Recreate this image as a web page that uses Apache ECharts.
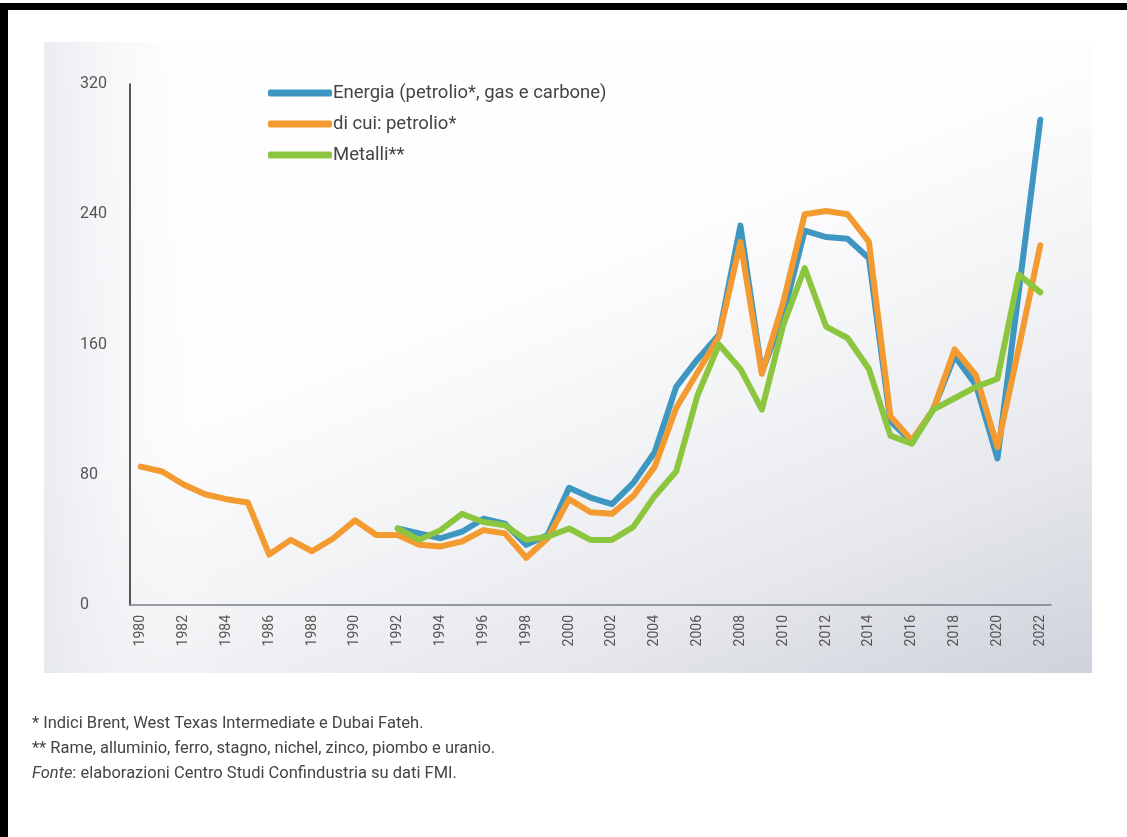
<!DOCTYPE html>
<html>
<head>
<meta charset="utf-8">
<script src="https://cdn.jsdelivr.net/npm/echarts@6/dist/echarts.min.js"></script>
<style>
html,body{margin:0;padding:0;background:#fff;}
#chart{width:1127px;height:837px;}
</style>
</head>
<body>
<div id="chart"></div>
<script>
const years = ['1980','1981','1982','1983','1984','1985','1986','1987','1988','1989','1990','1991','1992','1993','1994','1995','1996','1997','1998','1999','2000','2001','2002','2003','2004','2005','2006','2007','2008','2009','2010','2011','2012','2013','2014','2015','2016','2017','2018','2019','2020','2021','2022'];
const energia = [null,null,null,null,null,null,null,null,null,null,null,null,
  47,44,41,45,53,50,37,43,72,66,62,75,94,134,151,166,233,143,178,230,226,225,213,113,100,120,153,135,90,193,298];
const petrolio = [85,82,74,68,65,63,31,40,33,41,52,43,43,37,36,39,46,44,29,41,65,57,56,67,85,121,143,165,223,142,186,240,242,240,223,116,101,120,157,141,97,158,221];
const metalli = [null,null,null,null,null,null,null,null,null,null,null,null,
  47,40,46,56,51,49,40,42,47,40,40,48,67,82,129,160,145,120,172,207,171,164,145,104,99,120,127,134,139,203,192];
const seriesNames = ['Energia (petrolio*, gas e carbone)','di cui: petrolio*','Metalli**'];
const yTicks = [0,80,160,240,320];
const notes = ['* Indici Brent, West Texas Intermediate e Dubai Fateh.','** Rame, alluminio, ferro, stagno, nichel, zinco, piombo e uranio.'];
const sourceLabel = 'Fonte';
const sourceText = ': elaborazioni Centro Studi Confindustria su dati FMI.';

const chart = echarts.init(document.getElementById('chart'), null, {renderer:'canvas'});
const mk = (name, data, color) => ({
  name, type:'line', data, symbol:'none', connectNulls:false,
  lineStyle:{width:6, color, join:'round', cap:'round'}, itemStyle:{color}
});
const noteFont = "16.5px Roboto";
chart.setOption({
  animation:false,
  graphic:[
    {type:'rect', z:-10, shape:{x:44,y:42,width:1048,height:631},
     style:{fill:new echarts.graphic.LinearGradient(0,0,382,955,[
       {offset:0,color:'#ffffff'},{offset:0.45,color:'#fdfdfe'},{offset:0.62,color:'#f3f4f6'},
       {offset:0.8,color:'#e6e8ec'},{offset:1,color:'#cfd2db'}], true)}},
    {type:'rect', z:-9, shape:{x:44,y:42,width:180,height:631},
     style:{fill:new echarts.graphic.LinearGradient(0,0,1,0,[
       {offset:0,color:'rgba(225,228,234,0.7)'},{offset:1,color:'rgba(255,255,255,0)'}])}},
    {type:'rect', shape:{x:0,y:3,width:1127,height:7}, style:{fill:'#000'}},
    {type:'rect', shape:{x:0,y:3,width:8,height:834}, style:{fill:'#000'}},
    {type:'text', left:32, top:715, style:{text:notes[0], font:noteFont, fill:'#444'}},
    {type:'text', left:32, top:740, style:{text:notes[1], font:noteFont, fill:'#444'}},
    {type:'text', left:32, top:765, style:{
      text:'{i|'+sourceLabel+'}'+sourceText, font:noteFont, fill:'#444',
      rich:{i:{font:"italic 16.5px Roboto", fill:'#444'}}}}
  ],
  legend:{
    orient:'vertical', left:263, top:77, itemWidth:64, itemHeight:7, itemGap:9,
    icon:'roundRect',
    textStyle:{fontFamily:'Roboto', fontSize:18.5, color:'#444', lineHeight:22, padding:[0,0,0,-4]},
    data:seriesNames
  },
  grid:{left:130, right:76, top:84, bottom:232, containLabel:false},
  xAxis:{
    type:'category', data:years, boundaryGap:true,
    axisLine:{lineStyle:{color:'#7a7d85', width:1.5}},
    axisTick:{show:false},
    axisLabel:{interval:1, rotate:90, margin:10, fontFamily:'Roboto', fontSize:14, color:'#555'}
  },
  yAxis:{
    type:'value', min:0, max:320, interval:80,
    axisLine:{show:true, lineStyle:{color:'#222', width:1.5}},
    axisTick:{show:false},
    splitLine:{show:false},
    axisLabel:{align:'left', margin:50, fontFamily:'Roboto', fontSize:16, color:'#555',
      formatter:v => yTicks.includes(v) ? String(v) : ''}
  },
  series:[
    mk(seriesNames[0], energia, '#3d97c1'),
    mk(seriesNames[1], petrolio, '#f39a31'),
    mk(seriesNames[2], metalli, '#8cc63f')
  ]
});
</script>
</body>
</html>
